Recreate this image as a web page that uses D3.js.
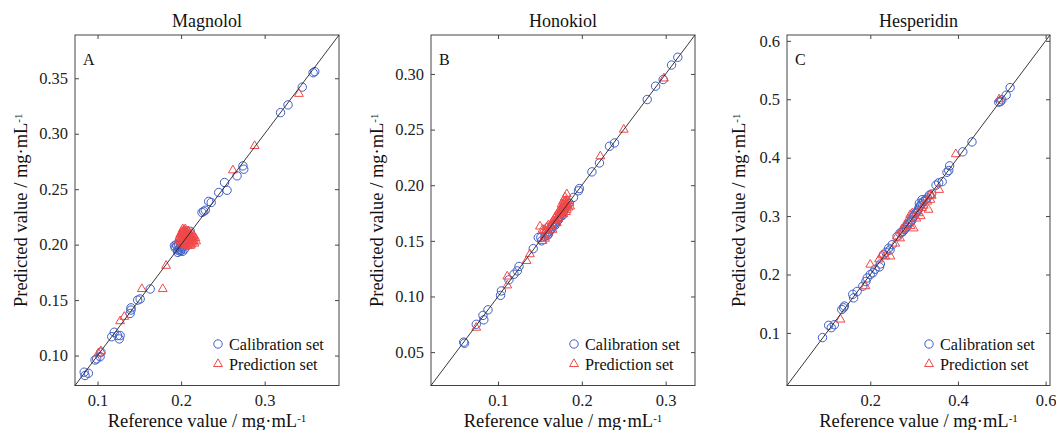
<!DOCTYPE html>
<html>
<head>
<meta charset="utf-8">
<script src="https://cdn.jsdelivr.net/npm/d3@7"></script>
<style>
  html, body { margin: 0; padding: 0; background: #ffffff; }
  svg { display: block; font-family: "Liberation Serif", "Times New Roman", serif; }
</style>
</head>
<body>
<div class="chart"></div>
<script>
/* Reference / predicted pairs, one array per set */
var magnololCal = [
  [0.358, 0.355], [0.360, 0.356], [0.345, 0.342], [0.328, 0.326], [0.319, 0.319],
  [0.274, 0.271], [0.275, 0.268], [0.267, 0.262], [0.252, 0.256], [0.255, 0.249],
  [0.245, 0.247], [0.233, 0.239], [0.236, 0.238], [0.225, 0.229], [0.227, 0.230],
  [0.229, 0.231],
  [0.193, 0.197], [0.195, 0.199], [0.196, 0.195], [0.198, 0.196], [0.197, 0.200],
  [0.199, 0.198], [0.200, 0.195], [0.201, 0.197], [0.203, 0.199], [0.204, 0.196],
  [0.205, 0.201], [0.207, 0.203], [0.208, 0.205], [0.210, 0.207], [0.211, 0.212],
  [0.206, 0.209], [0.202, 0.204], [0.194, 0.200], [0.196, 0.193], [0.199, 0.194],
  [0.202, 0.194], [0.192, 0.199], [0.200, 0.200], [0.203, 0.201],
  [0.163, 0.160], [0.148, 0.150], [0.151, 0.151], [0.140, 0.143], [0.140, 0.141],
  [0.139, 0.138], [0.120, 0.121], [0.117, 0.117], [0.124, 0.118], [0.127, 0.118],
  [0.126, 0.115], [0.104, 0.103], [0.103, 0.099], [0.097, 0.096], [0.099, 0.097],
  [0.084, 0.085], [0.089, 0.084], [0.085, 0.082]
];
var magnololPred = [
  [0.104, 0.104], [0.101, 0.102], [0.127, 0.131], [0.132, 0.135], [0.153, 0.160],
  [0.178, 0.160], [0.182, 0.181], [0.262, 0.267], [0.288, 0.289], [0.341, 0.336],
  [0.199, 0.203], [0.200, 0.206], [0.201, 0.209], [0.202, 0.211], [0.203, 0.205],
  [0.204, 0.208], [0.205, 0.210], [0.206, 0.204], [0.207, 0.207], [0.208, 0.209],
  [0.209, 0.206], [0.210, 0.203], [0.211, 0.208], [0.212, 0.205], [0.213, 0.202],
  [0.214, 0.207], [0.215, 0.204], [0.216, 0.201], [0.204, 0.213], [0.206, 0.212],
  [0.203, 0.200], [0.205, 0.198], [0.207, 0.200], [0.209, 0.201], [0.211, 0.199],
  [0.201, 0.201], [0.200, 0.210], [0.208, 0.212], [0.213, 0.210], [0.217, 0.206],
  [0.198, 0.207], [0.202, 0.214],
  [0.200, 0.204], [0.201, 0.206], [0.202, 0.208], [0.203, 0.210], [0.204, 0.203],
  [0.205, 0.206], [0.206, 0.208], [0.207, 0.205], [0.208, 0.203], [0.209, 0.209],
  [0.210, 0.205], [0.211, 0.203], [0.212, 0.207], [0.203, 0.212], [0.205, 0.211],
  [0.207, 0.210], [0.206, 0.201], [0.204, 0.201], [0.210, 0.210], [0.202, 0.202],
  [0.214, 0.203], [0.212, 0.200], [0.199, 0.209], [0.209, 0.212], [0.215, 0.208],
  [0.201, 0.212], [0.218, 0.203], [0.197, 0.204], [0.205, 0.214], [0.208, 0.199]
];

var honokiolCal = [
  [0.3145, 0.315], [0.307, 0.308], [0.297, 0.295], [0.288, 0.289], [0.278, 0.277],
  [0.239, 0.238], [0.233, 0.235], [0.221, 0.220], [0.212, 0.212], [0.197, 0.197],
  [0.196, 0.195], [0.190, 0.189],
  [0.185, 0.184], [0.182, 0.181], [0.180, 0.179], [0.178, 0.176], [0.176, 0.175],
  [0.175, 0.172], [0.173, 0.171], [0.171, 0.168], [0.169, 0.166], [0.167, 0.165],
  [0.165, 0.163], [0.163, 0.160], [0.161, 0.158], [0.160, 0.156], [0.158, 0.157],
  [0.156, 0.154], [0.152, 0.150], [0.148, 0.153], [0.151, 0.153], [0.172, 0.169],
  [0.168, 0.164], [0.164, 0.161], [0.159, 0.155], [0.177, 0.173],
  [0.142, 0.143], [0.125, 0.127], [0.123, 0.123], [0.119, 0.120], [0.113, 0.115],
  [0.104, 0.105], [0.103, 0.101], [0.088, 0.088], [0.082, 0.083], [0.083, 0.079],
  [0.074, 0.075], [0.060, 0.058], [0.059, 0.059]
];
var honokiolPred = [
  [0.298, 0.296], [0.250, 0.250], [0.222, 0.226], [0.111, 0.118], [0.111, 0.110],
  [0.138, 0.138], [0.134, 0.132], [0.074, 0.072], [0.156, 0.154],
  [0.182, 0.192], [0.180, 0.189], [0.183, 0.186], [0.181, 0.183], [0.179, 0.185],
  [0.178, 0.182], [0.184, 0.180], [0.182, 0.178], [0.177, 0.179], [0.176, 0.183],
  [0.175, 0.177], [0.174, 0.175], [0.178, 0.174], [0.172, 0.176], [0.170, 0.173],
  [0.168, 0.171], [0.166, 0.168], [0.170, 0.166], [0.164, 0.166], [0.162, 0.163],
  [0.160, 0.164], [0.165, 0.160], [0.158, 0.162], [0.157, 0.159], [0.155, 0.160],
  [0.160, 0.157], [0.156, 0.152], [0.153, 0.150], [0.185, 0.184], [0.186, 0.181],
  [0.181, 0.176], [0.150, 0.163], [0.153, 0.160],
  [0.179, 0.180], [0.180, 0.182], [0.181, 0.186], [0.177, 0.176], [0.176, 0.179],
  [0.173, 0.173], [0.171, 0.171], [0.169, 0.169], [0.174, 0.178], [0.183, 0.182],
  [0.167, 0.166], [0.163, 0.164], [0.178, 0.186], [0.180, 0.185], [0.172, 0.170]
];

var hesperidinCal = [
  [0.519, 0.520], [0.510, 0.507], [0.500, 0.499], [0.493, 0.495], [0.497, 0.496],
  [0.432, 0.427], [0.411, 0.410], [0.381, 0.386], [0.379, 0.378], [0.375, 0.375],
  [0.356, 0.357], [0.364, 0.359], [0.350, 0.353],
  [0.340, 0.338], [0.335, 0.336], [0.330, 0.331], [0.326, 0.328], [0.322, 0.325],
  [0.318, 0.322], [0.315, 0.318], [0.312, 0.316], [0.310, 0.312], [0.308, 0.309],
  [0.305, 0.306], [0.302, 0.304], [0.300, 0.300], [0.297, 0.298], [0.295, 0.293],
  [0.292, 0.291], [0.290, 0.289], [0.287, 0.286], [0.284, 0.283], [0.281, 0.280],
  [0.278, 0.277], [0.275, 0.274], [0.272, 0.272], [0.268, 0.271], [0.261, 0.265],
  [0.250, 0.251], [0.242, 0.245], [0.245, 0.242], [0.236, 0.238], [0.230, 0.234],
  [0.223, 0.218], [0.221, 0.213], [0.211, 0.209], [0.206, 0.203], [0.200, 0.200],
  [0.193, 0.194], [0.190, 0.188], [0.183, 0.180], [0.170, 0.171], [0.160, 0.166],
  [0.162, 0.160], [0.141, 0.146], [0.139, 0.143], [0.135, 0.140], [0.118, 0.114],
  [0.111, 0.109], [0.105, 0.113], [0.091, 0.092], [0.318, 0.328], [0.312, 0.322]
];
var hesperidinPred = [
  [0.494, 0.500], [0.395, 0.406], [0.357, 0.345], [0.337, 0.328], [0.333, 0.311],
  [0.318, 0.314], [0.291, 0.302], [0.299, 0.279], [0.280, 0.285], [0.272, 0.277],
  [0.261, 0.265], [0.246, 0.231], [0.200, 0.217], [0.189, 0.180], [0.132, 0.123],
  [0.227, 0.233], [0.234, 0.231], [0.310, 0.305], [0.322, 0.318], [0.305, 0.296],
  [0.296, 0.305], [0.285, 0.292], [0.275, 0.279], [0.268, 0.262], [0.330, 0.325],
  [0.340, 0.335], [0.315, 0.300], [0.292, 0.283], [0.220, 0.226], [0.257, 0.253],
  [0.337, 0.336]
];

/* Tick values per panel */
var magnololXTicks = [0.1, 0.2, 0.3];
var magnololYTicks = [0.10, 0.15, 0.20, 0.25, 0.30, 0.35];
var honokiolXTicks = [0.1, 0.2, 0.3];
var honokiolYTicks = [0.05, 0.10, 0.15, 0.20, 0.25, 0.30];
var hesperidinXTicks = [0.2, 0.4, 0.6];
var hesperidinYTicks = [0.1, 0.2, 0.3, 0.4, 0.5, 0.6];

var panelTitles = ["Magnolol", "Honokiol", "Hesperidin"];
var panelLetters = ["A", "B", "C"];
var legendLabels = ["Calibration set", "Prediction set"];

var CAL_COLOR = "#3f5ec6";
var PRED_COLOR = "#f04848";
var TICK_LEN = 4;

var panels = [
  { cal: magnololCal, pred: magnololPred, xTicks: magnololXTicks, yTicks: magnololYTicks,
    xFmt: ".1f", yFmt: ".2f", domain: [0.073, 0.389], left: 75, right: 339 },
  { cal: honokiolCal, pred: honokiolPred, xTicks: honokiolXTicks, yTicks: honokiolYTicks,
    xFmt: ".1f", yFmt: ".2f", domain: [0.02, 0.335], left: 431, right: 695 },
  { cal: hesperidinCal, pred: hesperidinPred, xTicks: hesperidinXTicks, yTicks: hesperidinYTicks,
    xFmt: ".1f", yFmt: ".1f", domain: [0.01, 0.61], left: 787, right: 1050 }
];

var TOP = 35;
var BOTTOM = 385.5;

var svg = d3.select("div.chart")
            .append("svg")
            .attr("width", 1056)
            .attr("height", 430);

/* Writes "<prefix> / mg·mL" followed by a raised -1 */
function unitLabel(textSel, prefix) {
  textSel.append("tspan").text(prefix + " / mg\u00b7mL");
  textSel.append("tspan")
         .attr("font-size", "11px")
         .attr("baseline-shift", "45%")
         .text("-1");
}

panels.forEach(function drawPanel(p, index) {
  var x = d3.scaleLinear().domain(p.domain).range([p.left, p.right]);
  var y = d3.scaleLinear().domain(p.domain).range([BOTTOM, TOP]);
  var g = svg.append("g");
  var midX = (p.left + p.right) / 2;
  var tri = d3.symbol().type(d3.symbolTriangle).size(34);

  /* inward ticks on all four sides, like the box axes in the figure */
  g.append("g").attr("transform", "translate(0," + BOTTOM + ")")
   .call(d3.axisBottom(x).tickValues(p.xTicks).tickSize(-TICK_LEN).tickSizeOuter(0)
           .tickPadding(9).tickFormat(d3.format(p.xFmt)));
  g.append("g").attr("transform", "translate(0," + TOP + ")")
   .call(d3.axisTop(x).tickValues(p.xTicks).tickSize(-TICK_LEN).tickSizeOuter(0)
           .tickFormat(""));
  g.append("g").attr("transform", "translate(" + p.left + ",0)")
   .call(d3.axisLeft(y).tickValues(p.yTicks).tickSize(-TICK_LEN).tickSizeOuter(0)
           .tickPadding(7).tickFormat(d3.format(p.yFmt)));
  g.append("g").attr("transform", "translate(" + p.right + ",0)")
   .call(d3.axisRight(y).tickValues(p.yTicks).tickSize(-TICK_LEN).tickSizeOuter(0)
           .tickFormat(""));

  g.selectAll(".domain").remove();
  g.selectAll(".tick line").attr("stroke", "#444");
  g.selectAll(".tick text")
   .attr("font-family", "'Liberation Serif', 'Times New Roman', serif")
   .attr("font-size", "16.5px")
   .attr("fill", "#222");

  g.append("rect")
   .attr("x", p.left).attr("y", TOP)
   .attr("width", p.right - p.left).attr("height", BOTTOM - TOP)
   .attr("fill", "none").attr("stroke", "#444").attr("stroke-width", 1);

  g.selectAll("circle.cal")
   .data(p.cal)
   .enter().append("circle")
   .attr("class", "cal")
   .attr("cx", function (d) { return x(d[0]); })
   .attr("cy", function (d) { return y(d[1]); })
   .attr("r", 4.2)
   .attr("fill", "none")
   .attr("stroke", CAL_COLOR)
   .attr("stroke-width", 1);

  g.selectAll("path.pred")
   .data(p.pred)
   .enter().append("path")
   .attr("class", "pred")
   .attr("d", tri)
   .attr("transform", function (d) { return "translate(" + x(d[0]) + "," + y(d[1]) + ")"; })
   .attr("fill", "none")
   .attr("stroke", PRED_COLOR)
   .attr("stroke-width", 1);

  /* 1:1 line across the whole box */
  g.append("line")
   .attr("x1", x(p.domain[0])).attr("y1", y(p.domain[0]))
   .attr("x2", x(p.domain[1])).attr("y2", y(p.domain[1]))
   .attr("stroke", "#222").attr("stroke-width", 0.9);

  g.append("text")
   .attr("x", midX).attr("y", 27)
   .attr("text-anchor", "middle")
   .attr("font-size", "18px")
   .attr("fill", "#111")
   .text(panelTitles[index]);

  g.append("text")
   .attr("x", p.left + 8).attr("y", TOP + 30)
   .attr("font-size", "16px")
   .attr("fill", "#111")
   .text(panelLetters[index]);

  /* legend, bottom right inside the box */
  var lx = p.right - 121;
  g.append("circle")
   .attr("cx", lx).attr("cy", 344).attr("r", 4.2)
   .attr("fill", "none").attr("stroke", CAL_COLOR);
  g.append("path")
   .attr("d", tri)
   .attr("transform", "translate(" + lx + ",364)")
   .attr("fill", "none").attr("stroke", PRED_COLOR);
  legendLabels.forEach(function (label, i) {
    g.append("text")
     .attr("x", lx + 11).attr("y", 349.5 + i * 20)
     .attr("font-size", "16.2px")
     .attr("fill", "#111")
     .text(label);
  });

  var xl = g.append("text")
            .attr("x", midX).attr("y", 427)
            .attr("text-anchor", "middle")
            .attr("font-size", "18.5px")
            .attr("fill", "#111");
  unitLabel(xl, "Reference value");

  var labelX = index === 2 ? p.left - 42 : p.left - 48;
  var yl = g.append("text")
            .attr("transform", "translate(" + labelX + "," + ((TOP + BOTTOM) / 2) + ") rotate(-90)")
            .attr("text-anchor", "middle")
            .attr("font-size", "18.5px")
            .attr("fill", "#111");
  unitLabel(yl, "Predicted value");
});
</script>
</body>
</html>
